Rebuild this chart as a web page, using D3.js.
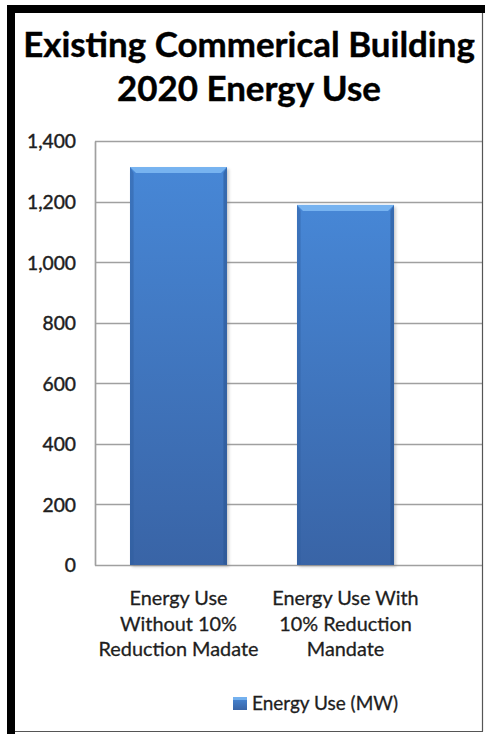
<!DOCTYPE html>
<html>
<head>
<meta charset="utf-8">
<script src="https://cdn.jsdelivr.net/npm/d3@7"></script>
<style>
  html, body { margin: 0; padding: 0; background: #fff; }
  svg { display: block; }
</style>
</head>
<body>
<svg id="chart" width="485" height="734"></svg>
<script>
// ---- data ----
const titleLines = ["Existing Commerical Building", "2020 Energy Use"];
const categories = ["Without", "With"];
const categoryLabels = [
  ["Energy Use", "Without 10%", "Reduction Madate"],
  ["Energy Use With", "10% Reduction", "Mandate"]
];
const seriesName = "Energy Use (MW)";
const values = [1314, 1189];
const yTicks = [0, 200, 400, 600, 800, 1000, 1200, 1400];

// ---- layout ----
const W = 485, H = 734;
const plot = { left: 95, right: 429, gridRight: 483, top: 141, bottom: 565 };
const FONT = "Lato, 'Noto Sans', 'Open Sans', sans-serif";
const TEXT = "#1e1e1e";

const svg = d3.select("#chart");

// fit a text element's font-size so that its width equals target
function fitSize(str, weight, target) {
  const t = svg.append("text").attr("font-family", FONT).attr("font-weight", weight)
    .attr("font-size", 100).text(str);
  const w = t.node().getComputedTextLength();
  t.remove();
  return 100 * target / w;
}

svg.append("rect").attr("width", W).attr("height", H).attr("fill", "#fff");

const defs = svg.append("defs");
const grad = defs.append("linearGradient").attr("id", "barGrad")
  .attr("x1", 0).attr("y1", 0).attr("x2", 0).attr("y2", 1);
grad.append("stop").attr("offset", "0%").attr("stop-color", "#4787d6");
grad.append("stop").attr("offset", "100%").attr("stop-color", "#3964a6");
const blur = defs.append("filter").attr("id", "shadow").attr("x", "-10%").attr("y", "-10%")
  .attr("width", "130%").attr("height", "130%");
blur.append("feGaussianBlur").attr("stdDeviation", 1.5);

// ---- title ----
const titleSize = fitSize(titleLines[0], "bold", 452);
const titleBase = [57, 101];
svg.append("g").selectAll("text").data(titleLines).join("text")
  .attr("x", 249).attr("y", (d, i) => titleBase[i])
  .attr("text-anchor", "middle")
  .attr("font-family", FONT).attr("font-weight", "bold")
  .attr("font-size", titleSize).attr("fill", "#000")
  .attr("stroke", "#000").attr("stroke-width", 0.4)
  .text(d => d);

// ---- scales ----
const y = d3.scaleLinear().domain([0, 1400]).range([plot.bottom, plot.top]);
const x = d3.scaleBand().domain(categories).range([plot.left, plot.right])
  .paddingInner(0.419).paddingOuter(0.2095);

// ---- gridlines ----
svg.append("g").selectAll("line").data(yTicks).join("line")
  .attr("x1", plot.left).attr("x2", plot.gridRight)
  .attr("y1", d => Math.round(y(d)) + 0.5).attr("y2", d => Math.round(y(d)) + 0.5)
  .attr("stroke", "#a0a0a0").attr("stroke-width", 1.7);

// y axis
const labelSize = fitSize("1,400", "normal", 49);
const yAxis = d3.axisLeft(y).tickValues(yTicks).tickSize(0).tickPadding(19)
  .tickFormat(d3.format(","));
const yg = svg.append("g").attr("transform", `translate(${plot.left},0)`).call(yAxis);
yg.select(".domain").attr("stroke", "#a0a0a0").attr("stroke-width", 1.7);
yg.selectAll("text").attr("font-family", FONT).attr("font-size", labelSize)
  .attr("fill", TEXT).attr("stroke", TEXT).attr("stroke-width", 0.45).attr("dy", "0.36em");

// ---- bars ----
const bars = svg.append("g").selectAll("g").data(values).join("g");
const bw = x.bandwidth();
const b = 6;
bars.append("rect")
  .attr("x", (d, i) => x(categories[i]) + 2).attr("y", d => y(d) + 2)
  .attr("width", bw).attr("height", d => plot.bottom - y(d))
  .attr("fill", "#777").attr("opacity", 0.35).attr("filter", "url(#shadow)");
bars.append("rect")
  .attr("x", (d, i) => x(categories[i])).attr("y", d => y(d))
  .attr("width", bw).attr("height", d => plot.bottom - y(d))
  .attr("fill", "url(#barGrad)");
// bevel edges
function pts(arr) { return arr.map(p => p.join(",")).join(" "); }
bars.append("polygon").attr("points", (d, i) => {
  const x0 = x(categories[i]), y0 = y(d);
  return pts([[x0, y0], [x0 + bw, y0], [x0 + bw - b, y0 + b], [x0 + b, y0 + b]]);
}).attr("fill", "#80bbf5").attr("opacity", 0.85);
bars.append("polygon").attr("points", (d, i) => {
  const x0 = x(categories[i]), y0 = y(d), y1 = plot.bottom;
  return pts([[x0, y0], [x0 + b * 0.6, y0 + b], [x0 + b * 0.6, y1 - 1], [x0, y1]]);
}).attr("fill", "#2f5e9e").attr("opacity", 0.45);
bars.append("polygon").attr("points", (d, i) => {
  const x0 = x(categories[i]) + bw, y0 = y(d), y1 = plot.bottom;
  return pts([[x0, y0], [x0 - b * 0.6, y0 + b], [x0 - b * 0.6, y1 - 1], [x0, y1]]);
}).attr("fill", "#2a5490").attr("opacity", 0.55);

// ---- x labels ----
const xSize = fitSize("Reduction Madate", "normal", 160);
const lineBase = [605, 631, 656];
const xl = svg.append("g").selectAll("g").data(categories).join("g");
xl.selectAll("text").data((d, i) => categoryLabels[i].map(t => ({ t, c: d }))).join("text")
  .attr("x", d => x(d.c) + bw / 2).attr("y", (d, j) => lineBase[j])
  .attr("text-anchor", "middle")
  .attr("font-family", FONT).attr("font-size", xSize).attr("fill", TEXT)
  .attr("stroke", TEXT).attr("stroke-width", 0.3)
  .text(d => d.t);

// ---- legend ----
const lg = svg.append("g");
lg.append("rect").attr("x", 233).attr("y", 697).attr("width", 14).attr("height", 13)
  .attr("fill", "url(#barGrad)");
lg.append("rect").attr("x", 233).attr("y", 697).attr("width", 14).attr("height", 3)
  .attr("fill", "#80bbf5").attr("opacity", 0.8);
const lgSize = fitSize(seriesName, "normal", 146);
lg.append("text").attr("x", 252).attr("y", 710)
  .attr("font-family", FONT).attr("font-size", lgSize).attr("fill", TEXT)
  .attr("stroke", TEXT).attr("stroke-width", 0.3)
  .text(seriesName);

// ---- frame ----
svg.append("rect").attr("x", 7).attr("y", 5).attr("width", W - 7).attr("height", 8).attr("fill", "#000");
svg.append("rect").attr("x", 7).attr("y", 5).attr("width", 8).attr("height", H - 5).attr("fill", "#000");
svg.append("line").attr("x1", 482.5).attr("x2", 482.5).attr("y1", 13).attr("y2", 731.5)
  .attr("stroke", "#555").attr("stroke-width", 1.2);
svg.append("line").attr("x1", 15).attr("x2", 483).attr("y1", 731.5).attr("y2", 731.5)
  .attr("stroke", "#555").attr("stroke-width", 1.2);
</script>
</body>
</html>
